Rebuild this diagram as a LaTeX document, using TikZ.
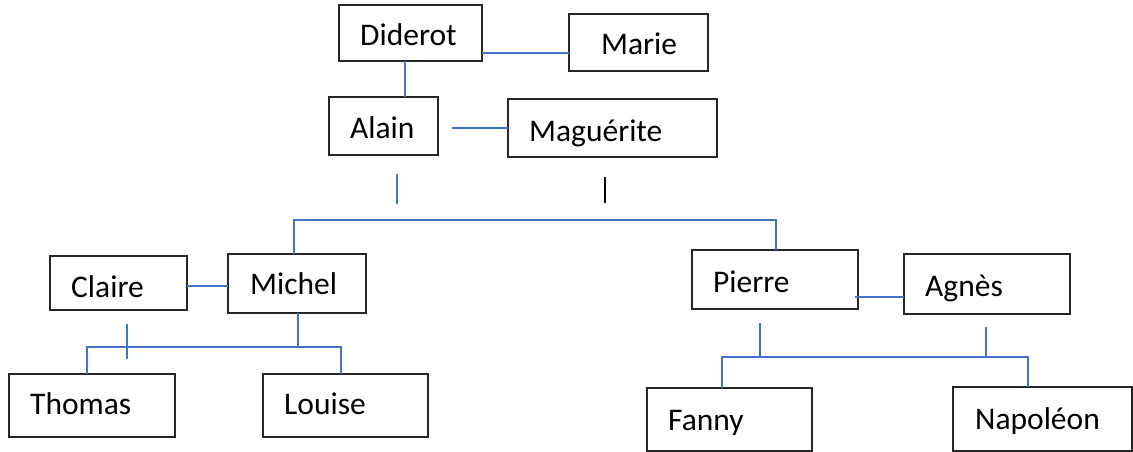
\documentclass[tikz,border=0pt]{standalone}
\usepackage{fontspec}
\setmainfont{Carlito}
\definecolor{linkblue}{HTML}{4472C4}
\definecolor{boxline}{HTML}{262626}
\begin{document}
\begin{tikzpicture}[x=1pt,y=-1pt,
  box/.style={draw=boxline,line width=1.3pt,rectangle,inner sep=0pt,outer sep=0pt,anchor=north west},
  persontext/.style={anchor=base west,inner sep=0pt,font=\fontsize{31.5}{38}\selectfont},
  conn/.style={draw=linkblue,line width=1.3pt},
  connblack/.style={draw=black,line width=1.3pt}]
\useasboundingbox[fill=white] (0,0) rectangle (1133,452);
% boxes
\node[box,minimum width=143pt,minimum height=56pt] (diderot) at (339,5) {};
\node[box,minimum width=139pt,minimum height=57pt] (marie) at (569,14) {};
\node[box,minimum width=109pt,minimum height=58pt] (alain) at (329,97) {};
\node[box,minimum width=209pt,minimum height=58pt] (magu) at (508,99) {};
\node[box,minimum width=137pt,minimum height=54pt] (claire) at (50,256) {};
\node[box,minimum width=138pt,minimum height=59pt] (michel) at (228,254) {};
\node[box,minimum width=166pt,minimum height=59pt] (pierre) at (692,250) {};
\node[box,minimum width=166pt,minimum height=60pt] (agnes) at (904,254) {};
\node[box,minimum width=166pt,minimum height=63pt] (thomas) at (9,374) {};
\node[box,minimum width=165pt,minimum height=63pt] (louise) at (263,374) {};
\node[box,minimum width=165pt,minimum height=63pt] (fanny) at (647,388) {};
\node[box,minimum width=179pt,minimum height=64pt] (napoleon) at (953,387) {};
% names
\node[persontext] (tdiderot) at (360,46) {Diderot};
\node[persontext] (tmarie) at (601,55) {Marie};
\node[persontext] (talain) at (350,138) {Alain};
\node[persontext] (tmagu) at (529,141) {Maguérite};
\node[persontext] (tclaire) at (71,297) {Claire};
\node[persontext] (tmichel) at (250,294) {Michel};
\node[persontext] (tpierre) at (713,292) {Pierre};
\node[persontext] (tagnes) at (925,296) {Agnès};
\node[persontext] (tthomas) at (30,414) {Thomas};
\node[persontext] (tlouise) at (284,414) {Louise};
\node[persontext] (tfanny) at (668,430) {Fanny};
\node[persontext] (tnapoleon) at (975,429) {Napoléon};
% coordinates
\coordinate (dm) at (482,53);
\coordinate (da) at (405,61);
\coordinate (am) at (452,128);
\coordinate (aa) at (397,174);
\coordinate (ab) at (397,204);
\coordinate (ma) at (605,177);
\coordinate (mb) at (605,203);
\coordinate (bar1) at (294,220);
\coordinate (bar2) at (776,220);
\coordinate (cm) at (187,286);
\coordinate (ca) at (127,324);
\coordinate (cb) at (127,359);
\coordinate (md) at (298,347);
\coordinate (tl) at (87,347);
\coordinate (lx) at (341,347);
\coordinate (pa) at (855,297);
\coordinate (pd) at (760,323);
\coordinate (ad) at (986,327);
\coordinate (fl) at (722,357);
\coordinate (nx) at (1028,357);
% connectors
\draw[conn] (dm) -- (dm -| marie.west);
\draw[conn] (da) -- (da |- alain.north);
\draw[conn] (am) -- (am -| magu.west);
\draw[conn] (aa) -- (ab);
\draw[connblack] (ma) -- (mb);
\draw[conn] (bar1 |- michel.north) -- (bar1) -- (bar2) -- (bar2 |- pierre.north);
\draw[conn] (cm) -- (cm -| michel.west);
\draw[conn] (ca) -- (cb);
\draw[conn] (md |- michel.south) -- (md);
\draw[conn] (tl |- thomas.north) -- (tl) -- (lx) -- (lx |- louise.north);
\draw[conn] (pa) -- (pa -| agnes.west);
\draw[conn] (pd) -- (pd |- fl);
\draw[conn] (ad) -- (ad |- fl);
\draw[conn] (fl |- fanny.north) -- (fl) -- (nx) -- (nx |- napoleon.north);
\end{tikzpicture}
\end{document}
